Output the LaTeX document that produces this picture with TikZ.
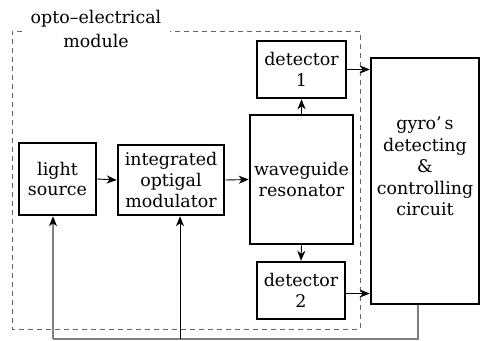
\documentclass[tikz,border=0pt]{standalone}
\usepackage{fontspec}
\setmainfont{DejaVu Serif}
\usetikzlibrary{arrows.meta}
\begin{document}
\begin{tikzpicture}[x=1bp,y=-1bp,
  blockbox/.style={draw,line width=2.5bp,inner sep=0pt,align=center,
    font=\fontsize{17.5}{21}\selectfont},
  conn/.style={line width=0.9bp,-{Stealth[length=10bp,width=8bp,inset=3bp,color=black]}},
  feed/.style={line width=1.2bp,draw=black!50}]
\useasboundingbox (0,0) rectangle (480,340);

% module frame with its label breaking the top edge
\draw[dashed,draw=black!60,line width=0.9bp,dash pattern=on 5bp off 4bp]
  (22,31) -- (12,31) -- (12,329) -- (360,329) -- (360,31) -- (170,31);
\node[align=center,font=\fontsize{17.5}{24}\selectfont] (modlabel) at (96,29)
  {opto\char"2013electrical\\module};

% blocks
\node[blockbox,minimum width=77bp,minimum height=72bp] (light) at (57.5,179) {light\\source};
\node[blockbox,minimum width=106bp,minimum height=70bp] (iom) at (171,180) {integrated\\optigal\\modulator};
\node[blockbox,minimum width=103bp,minimum height=129bp] (res) at (301.5,179.5) {waveguide\\resonator};
\node[blockbox,minimum width=89bp,minimum height=57bp] (det1) at (301.5,69.5) {detector\\1};
\node[blockbox,minimum width=88bp,minimum height=57bp] (det2) at (301,290.5) {detector\\2};
\node[blockbox,minimum width=108bp,minimum height=246bp,font=\fontsize{17.5}{21.5}\selectfont] (gyro) at (425,181)
  {gyro\char"2019\,s\\detecting\\\&\\controlling\\circuit\\[8bp]};

% optical path
\draw[conn] (light.east) -- (iom.west);
\draw[conn] (iom.east) -- (res.west);
\draw[conn] (res.north) -- (det1.south);
\draw[conn] (res.south) -- (det2.north);

% detector outputs
\draw[conn] (det1.east) -- (det1.east -| gyro.west);
\draw[conn] ([yshift=-3bp]det2.east) -- ([yshift=-3bp]det2.east -| gyro.west);

% feedback from the control circuit
\coordinate (fbL) at (53,339);
\coordinate (fbM) at (180,339);
\draw[feed] ([xshift=-7bp]gyro.south) |- (fbL);
\draw[conn,draw=black!50,line width=1.2bp] (fbL) -- (fbL |- light.south);
\draw[conn] (fbM) -- (fbM |- iom.south);
\end{tikzpicture}
\end{document}
